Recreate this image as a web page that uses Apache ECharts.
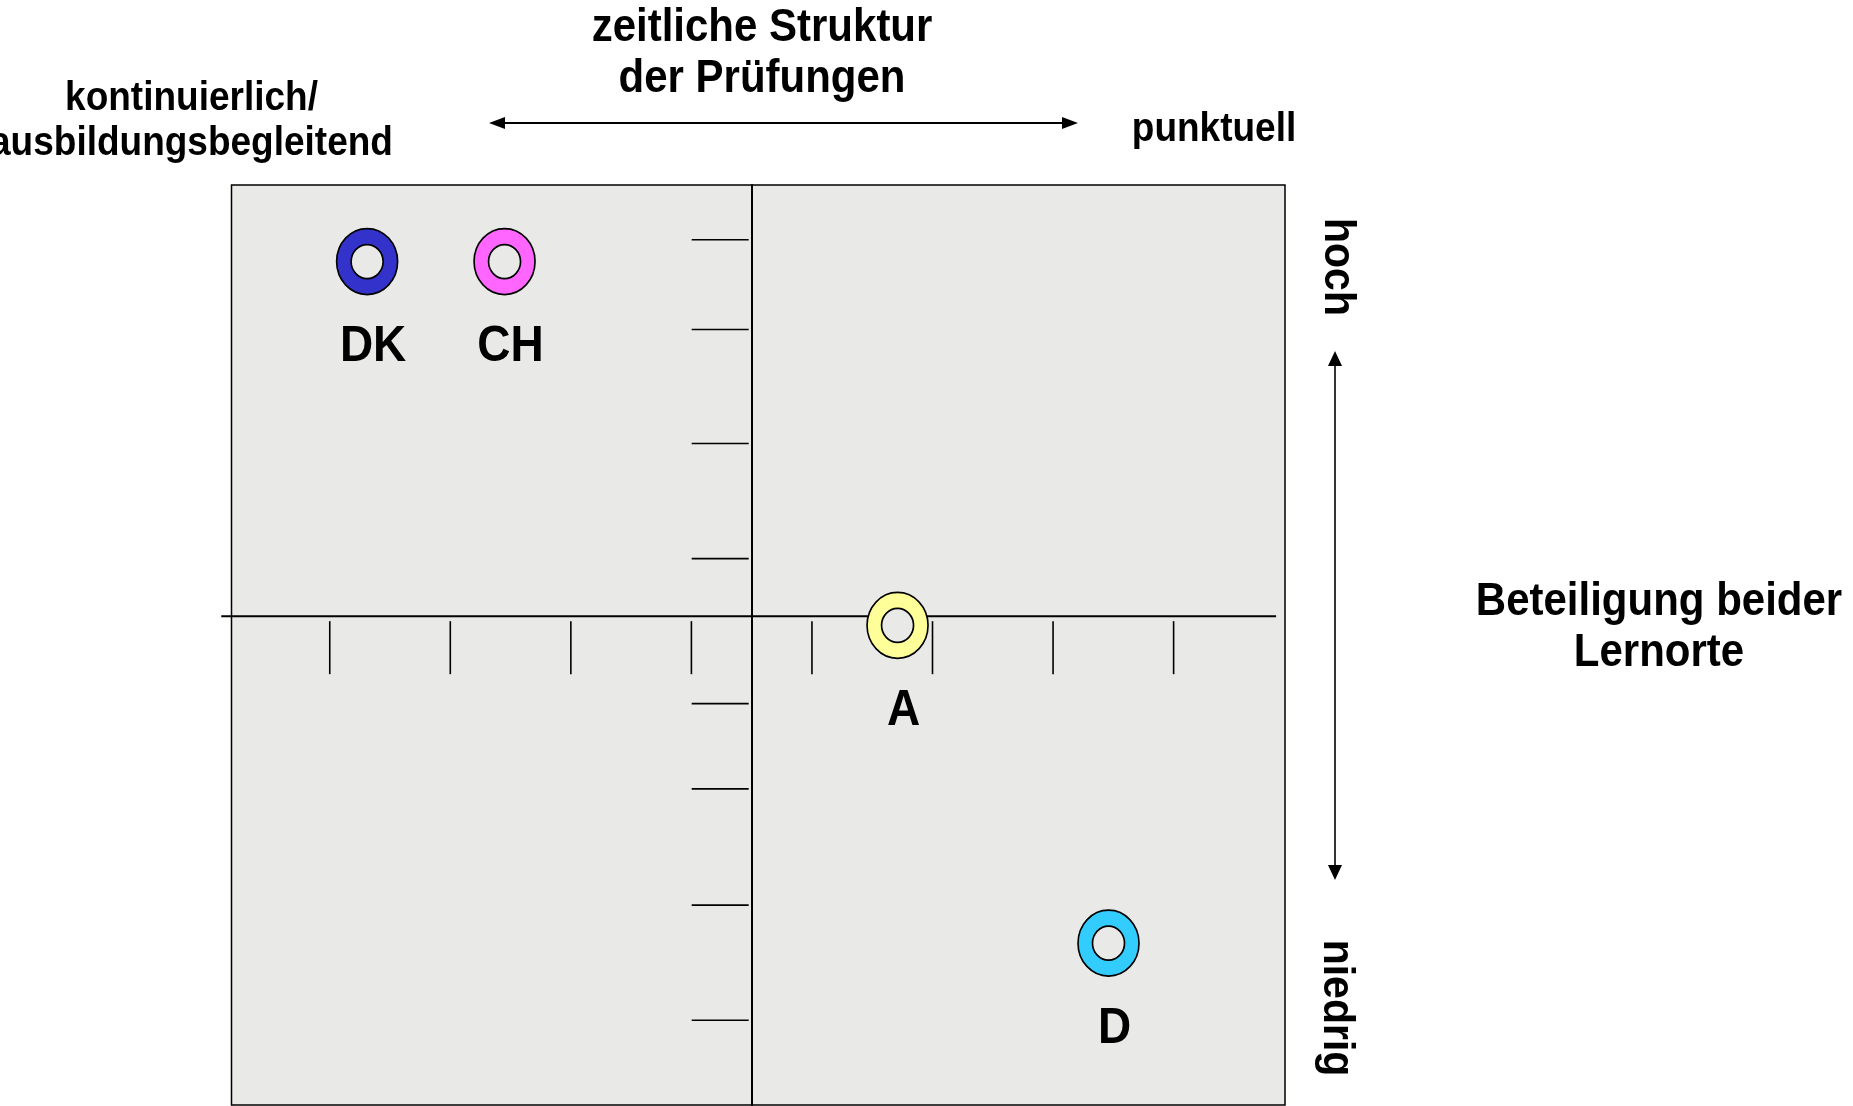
<!DOCTYPE html>
<html>
<head>
<meta charset="utf-8">
<script src="https://cdn.jsdelivr.net/npm/echarts@6/dist/echarts.min.js"></script>
<style>
  html, body { margin: 0; padding: 0; background: #ffffff; }
  #chart { width: 1853px; height: 1106px; }
</style>
</head>
<body>
<div id="chart"></div>
<script>
// ---- data ----
const countries = ['DK', 'CH', 'A', 'D'];
// x: zeitliche Struktur (negative = kontinuierlich, positive = punktuell)
const xValues = [-3.19, -2.05, 1.21, 2.96];
// y: Beteiligung beider Lernorte (positive = hoch, negative = niedrig)
const yValues = [3.08, 3.08, -0.08, -2.84];
const xTicks = [-3.5, -2.5, -1.5, -0.5, 0.5, 1.5, 2.5, 3.5];
const yTicks = [3.27, 2.49, 1.5, 0.5, -0.76, -1.5, -2.51, -3.51];
const xRange = [-4.315, 4.424];
const yRange = [-4.246, 3.745];
// extent of the drawn horizontal axis line (it pokes out left of the frame)
const hAxisExtent = [-4.4, 4.35];
const palette = ['#3333CC', '#FF66FF', '#FFFF99', '#33CCFF'];

const FONT = '"Liberation Sans", Arial, Helvetica, sans-serif';
const PLOT_BG = '#e9e9e7';
const STRETCH = 1.08;

const points = countries.map((c, i) => ({
  value: [xValues[i], yValues[i]],
  name: c,
  itemStyle: { color: palette[i] }
}));

function txt(text, x, y, size, extra) {
  return Object.assign({
    type: 'text',
    x: x, y: y + 2.5,
    scaleY: STRETCH,
    style: {
      text: text, x: 0, y: 0,
      font: 'bold ' + size + 'px ' + FONT,
      fill: '#000',
      align: 'center', verticalAlign: 'middle',
      textAlign: 'center', textVerticalAlign: 'middle'
    },
    z: 10
  }, extra || {});
}

const chart = echarts.init(document.getElementById('chart'), null, { renderer: 'canvas' });

chart.setOption({
  backgroundColor: '#ffffff',
  animation: false,
  grid: {
    left: 231.5, top: 185, width: 1053.5, height: 920,
    show: true, backgroundColor: PLOT_BG,
    borderColor: '#000', borderWidth: 1.5
  },
  xAxis: {
    type: 'value', min: xRange[0], max: xRange[1],
    axisLine: { show: false },
    axisTick: { show: false }, axisLabel: { show: false }, splitLine: { show: false }
  },
  yAxis: {
    type: 'value', min: yRange[0], max: yRange[1],
    axisLine: { show: true, onZero: true, lineStyle: { color: '#000', width: 2 } },
    axisTick: { show: false }, axisLabel: { show: false }, splitLine: { show: false }
  },
  series: [
    {
      type: 'custom', name: 'hAxis', silent: true, z: 3, clip: false,
      data: [[hAxisExtent[0], 0, hAxisExtent[1]]],
      encode: { x: 0, y: 1 },
      renderItem: function (params, api) {
        const a = api.coord([api.value(0), api.value(1)]);
        const b = api.coord([api.value(2), api.value(1)]);
        return { type: 'line', shape: { x1: a[0], y1: a[1], x2: b[0], y2: b[1] },
                 style: { stroke: '#000', lineWidth: 2 } };
      }
    },
    {
      type: 'custom', name: 'xTicks', silent: true, z: 3,
      data: xTicks.map(v => [v, 0]),
      encode: { x: 0, y: 1 },
      renderItem: function (params, api) {
        const p = api.coord([api.value(0), 0]);
        return { type: 'line', shape: { x1: p[0], y1: p[1] + 5, x2: p[0], y2: p[1] + 58 },
                 style: { stroke: '#000', lineWidth: 1.6 } };
      }
    },
    {
      type: 'custom', name: 'yTicks', silent: true, z: 3,
      data: yTicks.map(v => [0, v]),
      encode: { x: 0, y: 1 },
      renderItem: function (params, api) {
        const p = api.coord([0, api.value(1)]);
        return { type: 'line', shape: { x1: p[0] - 60, y1: p[1], x2: p[0] - 3, y2: p[1] },
                 style: { stroke: '#000', lineWidth: 1.6 } };
      }
    },
    {
      type: 'scatter', name: 'rings', z: 5,
      symbol: 'circle', symbolSize: [61, 66],
      itemStyle: { borderColor: '#000', borderWidth: 1.7, opacity: 1 },
      data: points
    },
    {
      type: 'scatter', name: 'holes', z: 6, silent: true,
      symbol: 'circle', symbolSize: [32, 34],
      itemStyle: { color: PLOT_BG, borderColor: '#000', borderWidth: 1.7, opacity: 1 },
      data: countries.map((c, i) => [xValues[i], yValues[i]])
    },
    {
      type: 'custom', name: 'labels', silent: true, z: 7,
      data: countries.map((c, i) => [xValues[i], yValues[i]]),
      encode: { x: 0, y: 1 },
      renderItem: function (params, api) {
        const p = api.coord([api.value(0), api.value(1)]);
        return {
          type: 'text', x: p[0] + 6, y: p[1] + 86, scaleY: STRETCH,
          style: {
            text: countries[params.dataIndex], x: 0, y: 0,
            font: 'bold 46px ' + FONT, fill: '#000',
            align: 'center', verticalAlign: 'middle',
            textAlign: 'center', textVerticalAlign: 'middle'
          }
        };
      }
    }
  ],
  graphic: [
    txt('zeitliche Struktur', 762, 26, 42),
    txt('der Prüfungen', 762, 77, 42),
    txt('kontinuierlich/', 191.5, 96, 37),
    txt('ausbildungsbegleitend', 191.5, 141, 37),
    txt('punktuell', 1214, 127, 37),
    txt('Beteiligung beider', 1659, 600, 42),
    txt('Lernorte', 1659, 651, 42),
    Object.assign(txt('hoch', 1339, 267, 41, { rotation: -Math.PI / 2 }), { x: 1337, y: 267 }),
    Object.assign(txt('niedrig', 1338, 1008, 41, { rotation: -Math.PI / 2 }), { x: 1336, y: 1008 }),
    // horizontal double arrow
    { type: 'line', shape: { x1: 500, y1: 123, x2: 1066, y2: 123 }, style: { stroke: '#000', lineWidth: 2 } },
    { type: 'polygon', shape: { points: [[489, 123], [505, 117], [505, 129]] }, style: { fill: '#000' } },
    { type: 'polygon', shape: { points: [[1078, 123], [1062, 117], [1062, 129]] }, style: { fill: '#000' } },
    // vertical double arrow
    { type: 'line', shape: { x1: 1335, y1: 362, x2: 1335, y2: 869 }, style: { stroke: '#000', lineWidth: 1.6 } },
    { type: 'polygon', shape: { points: [[1335, 351], [1328, 366], [1342, 366]] }, style: { fill: '#000' } },
    { type: 'polygon', shape: { points: [[1335, 880], [1328, 865], [1342, 865]] }, style: { fill: '#000' } }
  ]
});
</script>
</body>
</html>
